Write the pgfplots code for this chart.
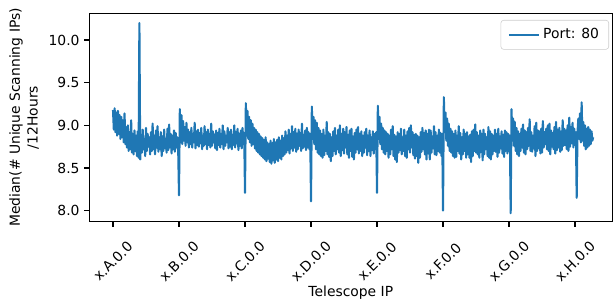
\documentclass[border=0pt]{standalone}
\usepackage{fontspec}
\setmainfont{DejaVu Sans}
\usepackage{pgfplots}
\pgfplotsset{compat=1.18}
\definecolor{mplblue}{HTML}{1F77B4}
\begin{document}
\begin{tikzpicture}
\begin{axis}[
  name=ax,
  scale only axis,
  width=376.6pt, height=150.0pt,
  xmin=-0.359, xmax=7.565,
  ymin=7.871, ymax=10.313,
  xtick={0,1,2,3,4,5,6,7},
  xticklabels={x.A.0.0,x.B.0.0,x.C.0.0,x.D.0.0,x.E.0.0,x.F.0.0,x.G.0.0,x.H.0.0},
  ytick={8,8.5,9,9.5,10},
  yticklabel style={/pgf/number format/.cd, fixed, fixed zerofill, precision=1},
  /pgf/number format/assume math mode=true,
  tick pos=left,
  tick align=outside,
  major tick length=3.5pt,
  tick style={black, line width=0.8pt},
  axis line style={black, line width=0.8pt},
  ticklabel style={font=\fontsize{10}{12}\selectfont},
  xticklabel style={rotate=45, anchor=center},
  xticklabel shift=25pt,
  xlabel={Telescope IP},
  xlabel style={at={(axis description cs:0.5,-0.3407)}, anchor=center, font=\fontsize{10}{12}\selectfont},
  ylabel={Median(\# Unique Scanning IPs)\\/12Hours},
  ylabel style={at={(axis description cs:-0.1248,0.5)}, anchor=center, align=center, font=\fontsize{10}{12.8}\selectfont},
  legend style={at={(1,1)}, anchor=north east, xshift=-2.4pt, yshift=-4.8pt,
    draw=black!20, rounded corners=2pt, fill=white, fill opacity=0.8, text opacity=1,
    font=\fontsize{10}{12}\selectfont, inner xsep=5pt, inner ysep=4pt},
  legend cell align=left,
  legend image code/.code={\draw[#1] (0pt,0pt) -- (22pt,0pt);},
]
\addplot[mplblue, line width=1.5pt, line join=round] coordinates {
(0.0000,9.18)(0.0125,8.95)(0.0250,9.20)(0.0375,8.92)(0.0500,9.15)(0.0625,8.88)(0.0750,9.17)(0.0875,8.90)(0.1000,9.12)(0.1125,8.84)(0.1250,9.10)(0.1375,8.86)(0.1500,9.06)(0.1625,8.80)(0.1750,9.14)(0.1875,8.78)
(0.2000,8.98)(0.2125,8.74)(0.2250,9.00)(0.2375,8.70)(0.2500,8.92)(0.2625,8.72)(0.2750,9.06)(0.2875,8.68)(0.3000,8.90)(0.3125,8.66)(0.3250,8.94)(0.3375,8.70)(0.3500,8.88)(0.3625,8.64)(0.3750,8.93)(0.3875,8.62)
(0.4000,10.20)(0.4125,8.60)(0.4250,8.86)(0.4375,8.68)(0.4500,8.95)(0.4625,8.72)(0.4750,8.84)(0.4875,8.64)(0.5000,8.97)(0.5125,8.70)(0.5250,8.90)(0.5375,8.75)(0.5500,8.86)(0.5625,8.66)(0.5750,8.92)(0.5875,8.70)
(0.6000,9.02)(0.6125,8.72)(0.6250,8.88)(0.6375,8.66)(0.6500,8.94)(0.6625,8.74)(0.6750,8.99)(0.6875,8.69)(0.7000,8.86)(0.7125,8.72)(0.7250,8.92)(0.7375,8.64)(0.7500,8.87)(0.7625,8.70)(0.7750,8.95)(0.7875,8.73)
(0.8000,8.84)(0.8125,8.68)(0.8250,8.96)(0.8375,8.71)(0.8500,9.01)(0.8625,8.74)(0.8750,8.90)(0.8875,8.67)(0.9000,8.88)(0.9125,8.72)(0.9250,8.94)(0.9375,8.69)(0.9500,8.91)(0.9625,8.74)(0.9750,8.86)(0.9875,8.72)
(1.0000,8.18)(1.0125,9.19)(1.0250,8.80)(1.0375,9.12)(1.0500,8.78)(1.0625,9.05)(1.0750,8.82)(1.0875,8.98)(1.1000,8.76)(1.1125,9.03)(1.1250,8.80)(1.1375,8.95)(1.1500,8.74)(1.1625,8.92)(1.1750,8.78)(1.1875,8.97)
(1.2000,8.74)(1.2125,8.90)(1.2250,8.80)(1.2375,9.03)(1.2500,8.73)(1.2625,8.93)(1.2750,8.77)(1.2875,8.95)(1.3000,8.75)(1.3125,8.91)(1.3250,8.79)(1.3375,8.97)(1.3500,8.72)(1.3625,8.88)(1.3750,8.76)(1.3875,8.99)
(1.4000,8.78)(1.4125,8.92)(1.4250,8.72)(1.4375,8.95)(1.4500,8.77)(1.4625,8.90)(1.4750,8.74)(1.4875,9.02)(1.5000,8.76)(1.5125,8.93)(1.5250,8.80)(1.5375,8.89)(1.5500,8.73)(1.5625,8.94)(1.5750,8.71)(1.5875,8.91)
(1.6000,8.77)(1.6125,8.96)(1.6250,8.74)(1.6375,8.90)(1.6500,8.78)(1.6625,9.00)(1.6750,8.72)(1.6875,8.93)(1.7000,8.76)(1.7125,8.88)(1.7250,8.80)(1.7375,8.97)(1.7500,8.73)(1.7625,8.92)(1.7750,8.75)(1.7875,8.95)
(1.8000,8.72)(1.8125,8.89)(1.8250,8.77)(1.8375,9.00)(1.8500,8.74)(1.8625,8.92)(1.8750,8.79)(1.8875,8.96)(1.9000,8.71)(1.9125,8.90)(1.9250,8.76)(1.9375,8.94)(1.9500,8.73)(1.9625,8.97)(1.9750,8.78)(1.9875,8.91)
(2.0000,8.21)(2.0125,9.26)(2.0250,8.88)(2.0375,9.17)(2.0500,8.84)(2.0625,9.10)(2.0750,8.80)(2.0875,9.06)(2.1000,8.76)(2.1125,9.02)(2.1250,8.78)(2.1375,8.97)(2.1500,8.73)(2.1625,8.95)(2.1750,8.70)(2.1875,8.92)
(2.2000,8.68)(2.2125,8.90)(2.2250,8.66)(2.2375,8.87)(2.2500,8.64)(2.2625,8.85)(2.2750,8.62)(2.2875,8.83)(2.3000,8.60)(2.3125,8.86)(2.3250,8.58)(2.3375,8.80)(2.3500,8.61)(2.3625,8.78)(2.3750,8.57)(2.3875,8.82)
(2.4000,8.55)(2.4125,8.79)(2.4250,8.59)(2.4375,8.84)(2.4500,8.56)(2.4625,8.80)(2.4750,8.60)(2.4875,8.83)(2.5000,8.58)(2.5125,8.86)(2.5250,8.62)(2.5375,8.82)(2.5500,8.60)(2.5625,8.88)(2.5750,8.64)(2.5875,8.85)
(2.6000,8.66)(2.6125,8.93)(2.6250,8.68)(2.6375,8.88)(2.6500,8.71)(2.6625,8.95)(2.6750,8.67)(2.6875,8.90)(2.7000,8.73)(2.7125,8.99)(2.7250,8.70)(2.7375,8.92)(2.7500,8.74)(2.7625,8.96)(2.7750,8.69)(2.7875,8.90)
(2.8000,8.72)(2.8125,8.95)(2.8250,8.76)(2.8375,8.91)(2.8500,8.70)(2.8625,9.02)(2.8750,8.73)(2.8875,8.89)(2.9000,8.75)(2.9125,8.94)(2.9250,8.71)(2.9375,8.97)(2.9500,8.74)(2.9625,8.92)(2.9750,8.72)(2.9875,8.90)
(3.0000,8.11)(3.0125,9.22)(3.0250,8.84)(3.0375,9.10)(3.0500,8.78)(3.0625,9.06)(3.0750,8.72)(3.0875,9.03)(3.1000,8.68)(3.1125,8.97)(3.1250,8.66)(3.1375,8.94)(3.1500,8.64)(3.1625,8.90)(3.1750,8.62)(3.1875,8.95)
(3.2000,8.65)(3.2125,8.88)(3.2250,8.70)(3.2375,9.04)(3.2500,8.66)(3.2625,8.92)(3.2750,8.63)(3.2875,8.90)(3.3000,8.58)(3.3125,8.86)(3.3250,8.64)(3.3375,8.93)(3.3500,8.70)(3.3625,8.97)(3.3750,8.66)(3.3875,8.88)
(3.4000,8.72)(3.4125,8.95)(3.4250,8.68)(3.4375,9.00)(3.4500,8.64)(3.4625,8.90)(3.4750,8.71)(3.4875,8.96)(3.5000,8.67)(3.5125,8.92)(3.5250,8.74)(3.5375,8.98)(3.5500,8.66)(3.5625,8.89)(3.5750,8.62)(3.5875,8.94)
(3.6000,8.70)(3.6125,8.96)(3.6250,8.63)(3.6375,8.87)(3.6500,8.60)(3.6625,8.91)(3.6750,8.68)(3.6875,8.95)(3.7000,8.72)(3.7125,8.98)(3.7250,8.67)(3.7375,8.90)(3.7500,8.70)(3.7625,8.93)(3.7750,8.64)(3.7875,8.88)
(3.8000,8.68)(3.8125,8.92)(3.8250,8.74)(3.8375,8.96)(3.8500,8.65)(3.8625,8.88)(3.8750,8.70)(3.8875,8.94)(3.9000,8.64)(3.9125,8.86)(3.9250,8.71)(3.9375,8.93)(3.9500,8.67)(3.9625,8.90)(3.9750,8.72)(3.9875,8.92)
(4.0000,8.21)(4.0125,9.23)(4.0250,8.84)(4.0375,9.10)(4.0500,8.78)(4.0625,9.02)(4.0750,8.72)(4.0875,8.97)(4.1000,8.68)(4.1125,8.94)(4.1250,8.66)(4.1375,8.92)(4.1500,8.70)(4.1625,8.90)(4.1750,8.62)(4.1875,8.88)
(4.2000,8.66)(4.2125,8.95)(4.2250,8.72)(4.2375,8.99)(4.2500,8.64)(4.2625,8.89)(4.2750,8.60)(4.2875,8.87)(4.3000,8.57)(4.3125,8.92)(4.3250,8.68)(4.3375,8.90)(4.3500,8.71)(4.3625,8.96)(4.3750,8.66)(4.3875,8.86)
(4.4000,8.70)(4.4125,8.95)(4.4250,8.64)(4.4375,8.88)(4.4500,8.62)(4.4625,8.93)(4.4750,8.72)(4.4875,8.97)(4.5000,8.68)(4.5125,9.00)(4.5250,8.74)(4.5375,8.92)(4.5500,8.65)(4.5625,8.89)(4.5750,8.61)(4.5875,8.90)
(4.6000,8.64)(4.6125,8.88)(4.6250,8.56)(4.6375,8.86)(4.6500,8.62)(4.6625,8.92)(4.6750,8.69)(4.6875,8.97)(4.7000,8.72)(4.7125,8.91)(4.7250,8.66)(4.7375,8.94)(4.7500,8.60)(4.7625,8.90)(4.7750,8.67)(4.7875,8.95)
(4.8000,8.60)(4.8125,8.94)(4.8250,8.68)(4.8375,8.87)(4.8500,8.73)(4.8625,8.99)(4.8750,8.66)(4.8875,8.92)(4.9000,8.65)(4.9125,8.88)(4.9250,8.70)(4.9375,8.95)(4.9500,8.68)(4.9625,8.91)(4.9750,8.64)(4.9875,8.90)
(5.0000,8.00)(5.0125,9.33)(5.0250,8.92)(5.0375,9.15)(5.0500,8.82)(5.0625,9.08)(5.0750,8.76)(5.0875,9.02)(5.1000,8.70)(5.1125,8.96)(5.1250,8.68)(5.1375,8.93)(5.1500,8.64)(5.1625,8.90)(5.1750,8.62)(5.1875,8.94)
(5.2000,8.63)(5.2125,8.88)(5.2250,8.70)(5.2375,8.99)(5.2500,8.67)(5.2625,8.91)(5.2750,8.60)(5.2875,8.86)(5.3000,8.66)(5.3125,8.95)(5.3250,8.70)(5.3375,8.90)(5.3500,8.62)(5.3625,8.92)(5.3750,8.66)(5.3875,8.87)
(5.4000,8.62)(5.4125,8.89)(5.4250,8.57)(5.4375,8.93)(5.4500,8.64)(5.4625,8.95)(5.4750,8.70)(5.4875,9.01)(5.5000,8.68)(5.5125,8.92)(5.5250,8.66)(5.5375,8.88)(5.5500,8.62)(5.5625,8.94)(5.5750,8.69)(5.5875,8.90)
(5.6000,8.59)(5.6125,8.95)(5.6250,8.66)(5.6375,8.90)(5.6500,8.72)(5.6625,8.86)(5.6750,8.64)(5.6875,8.98)(5.7000,8.62)(5.7125,8.93)(5.7250,8.60)(5.7375,8.90)(5.7500,8.66)(5.7625,8.88)(5.7750,8.70)(5.7875,8.95)
(5.8000,8.69)(5.8125,8.90)(5.8250,8.63)(5.8375,8.96)(5.8500,8.68)(5.8625,8.87)(5.8750,8.73)(5.8875,8.93)(5.9000,8.67)(5.9125,8.89)(5.9250,8.63)(5.9375,8.94)(5.9500,8.70)(5.9625,8.92)(5.9750,8.67)(5.9875,8.90)
(6.0000,8.72)(6.0125,8.88)(6.0250,7.97)(6.0375,9.19)(6.0500,8.82)(6.0625,9.08)(6.0750,8.76)(6.0875,9.04)(6.1000,8.70)(6.1125,8.97)(6.1250,8.66)(6.1375,8.93)(6.1500,8.64)(6.1625,8.90)(6.1750,8.70)(6.1875,8.96)
(6.2000,8.74)(6.2125,9.01)(6.2250,8.68)(6.2375,8.94)(6.2500,8.66)(6.2625,8.92)(6.2750,8.72)(6.2875,8.97)(6.3000,8.76)(6.3125,9.07)(6.3250,8.70)(6.3375,8.92)(6.3500,8.69)(6.3625,8.88)(6.3750,8.73)(6.3875,8.99)
(6.4000,8.64)(6.4125,9.03)(6.4250,8.70)(6.4375,8.94)(6.4500,8.73)(6.4625,8.93)(6.4750,8.67)(6.4875,8.96)(6.5000,8.68)(6.5125,9.05)(6.5250,8.74)(6.5375,8.92)(6.5500,8.78)(6.5625,8.96)(6.5750,8.72)(6.5875,9.00)
(6.6000,8.70)(6.6125,9.02)(6.6250,8.66)(6.6375,8.94)(6.6500,8.75)(6.6625,8.91)(6.6750,8.72)(6.6875,8.98)(6.7000,8.67)(6.7125,9.04)(6.7250,8.71)(6.7375,8.95)(6.7500,8.74)(6.7625,8.97)(6.7750,8.69)(6.7875,8.93)
(6.8000,8.71)(6.8125,9.06)(6.8250,8.76)(6.8375,8.96)(6.8500,8.77)(6.8625,8.94)(6.8750,8.72)(6.8875,9.00)(6.9000,8.70)(6.9125,9.09)(6.9250,8.75)(6.9375,8.98)(6.9500,8.79)(6.9625,9.03)(6.9750,8.74)(6.9875,8.96)
(7.0000,8.78)(7.0125,8.92)(7.0250,8.15)(7.0375,8.92)(7.0500,9.08)(7.0625,8.84)(7.0750,9.14)(7.0875,8.80)(7.1000,9.27)(7.1125,8.82)(7.1250,9.04)(7.1375,8.76)(7.1500,9.00)(7.1625,8.72)(7.1750,8.96)(7.1875,8.74)
(7.2000,8.98)(7.2125,8.76)(7.2250,8.95)(7.2375,8.78)(7.2500,8.93)(7.2625,8.82)(7.2750,8.86)
};
\addlegendentry{Port: 80}
\end{axis}
\pgfresetboundingbox
\path[use as bounding box] ([shift={(-64.3pt,-60pt)}]ax.south west) rectangle ([shift={(1.2pt,9.6pt)}]ax.north east);
\end{tikzpicture}
\end{document}
